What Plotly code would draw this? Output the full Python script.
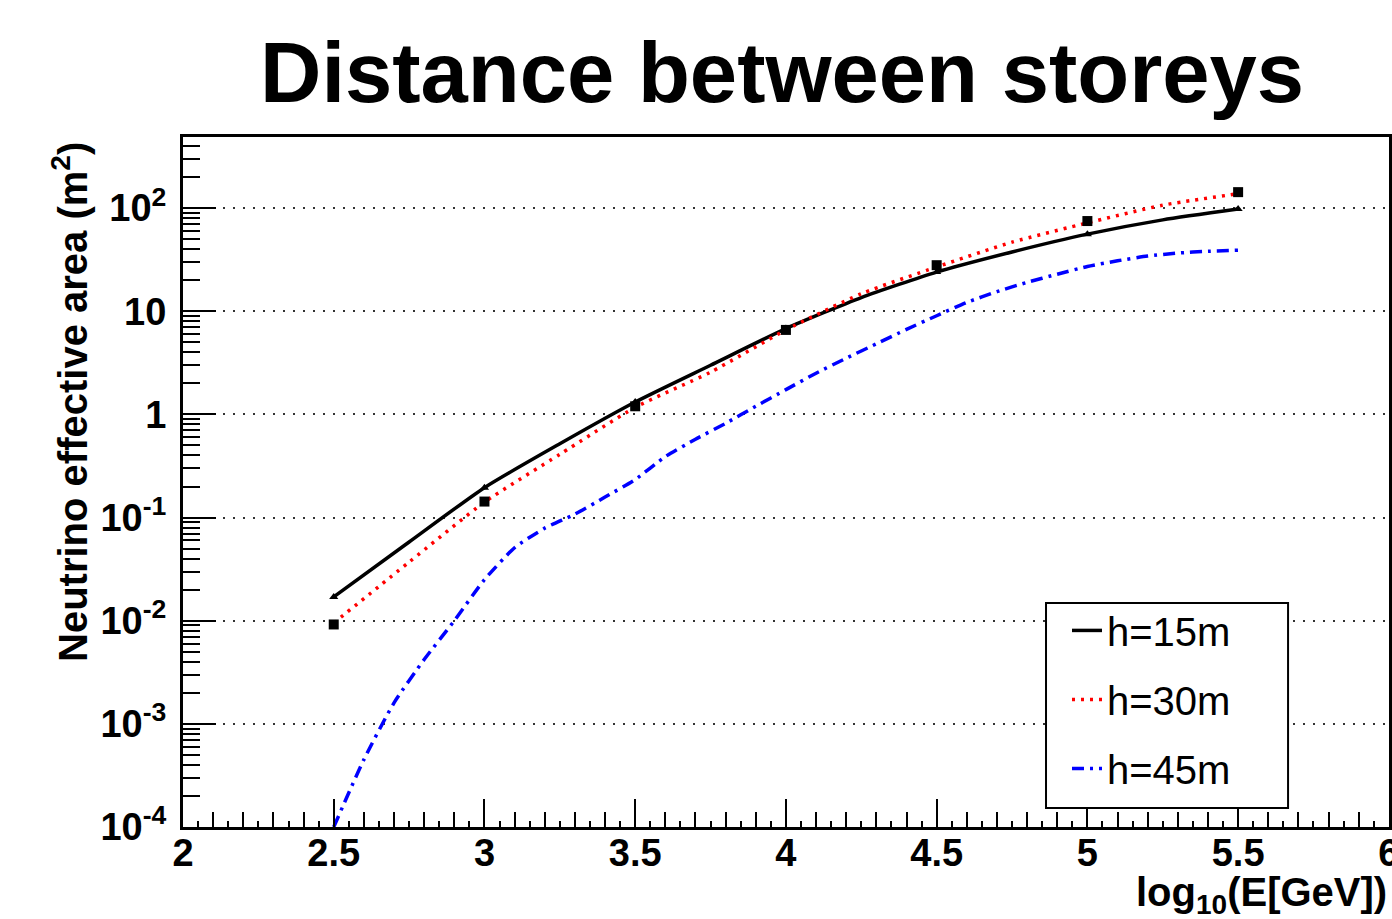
import plotly.graph_objects as go

# ---- data ----
x_main = [2.5, 2.75, 3.0, 3.25, 3.5, 3.75, 4.0, 4.25, 4.5, 4.75, 5.0, 5.25, 5.5]
h15 = [0.017, 0.058, 0.195, 0.52, 1.32, 3.0, 6.8, 13.6, 24.0, 37.6, 56.0, 77.0, 98.0]
h30 = [0.0095, 0.037, 0.141, 0.41, 1.17, 2.57, 6.6, 14.8, 26.9, 46.8, 72.0, 107.0, 138.0]

x_blue = [2.5, 2.6, 2.7, 2.8, 2.9, 3.0, 3.1, 3.2, 3.3, 3.4, 3.5, 3.6, 3.7, 3.8, 3.9, 4.0,
          4.1, 4.2, 4.3, 4.4, 4.5, 4.6, 4.7, 4.8, 4.9, 5.0, 5.1, 5.2, 5.3, 5.4, 5.5]
h45 = [1.0e-4, 4.5e-4, 1.6e-3, 4.2e-3, 0.010, 0.025, 0.051, 0.079, 0.108, 0.158, 0.234,
       0.39, 0.575, 0.82, 1.20, 1.74, 2.51, 3.51, 4.84, 6.68, 9.06, 12.2, 15.5, 19.1,
       22.9, 27.2, 30.9, 34.3, 36.7, 38.2, 39.1]

x_pts = [2.5, 3.0, 3.5, 4.0, 4.5, 5.0, 5.5]
h30_pts = [0.0092, 0.143, 1.2, 6.6, 28.0, 75.0, 143.0]

x_tickvals = [2, 2.5, 3, 3.5, 4, 4.5, 5, 5.5, 6]
x_ticktext = ["2", "2.5", "3", "3.5", "4", "4.5", "5", "5.5", "6"]
y_tickvals = [1e-4, 1e-3, 1e-2, 1e-1, 1, 10, 100]
y_ticktext = ["10<sup>-4</sup>", "10<sup>-3</sup>", "10<sup>-2</sup>", "10<sup>-1</sup>",
              "1", "10", "10<sup>2</sup>"]

FONT = "Liberation Sans, Arial, Helvetica, sans-serif"

# minor log tick positions (2..9 per decade)
minor_y = []
for e in range(-4, 3):
    for m in range(2, 10):
        v = m * 10 ** e
        if v < 490:
            minor_y.append(v)

fig = go.Figure()

fig.add_trace(go.Scatter(
    x=x_main, y=h15, mode="lines", name="h=15m",
    line=dict(color="black", width=3.5, shape="spline", smoothing=0.6),
    legendgroup="a",
))
fig.add_trace(go.Scatter(
    x=x_main, y=h30, mode="lines", name="h=30m",
    line=dict(color="#ff0000", width=3.5, dash="3px,6px", shape="spline", smoothing=0.6),
    legendgroup="b",
))
fig.add_trace(go.Scatter(
    x=x_blue, y=h45, mode="lines", name="h=45m",
    line=dict(color="#0000ff", width=3.5, dash="12px,6px,3px,6px", shape="spline", smoothing=0.6),
    legendgroup="c",
))
# small markers on the h=15m curve at the half-decade points
fig.add_trace(go.Scatter(
    x=x_main[::2], y=h15[::2], mode="markers", showlegend=False,
    marker=dict(symbol="triangle-up", color="black", size=8),
))
fig.add_trace(go.Scatter(
    x=x_pts, y=h30_pts, mode="markers", showlegend=False,
    marker=dict(symbol="square", color="black", size=10),
))
# helper trace for the tertiary x ticks axis
fig.add_trace(go.Scatter(x=[2, 6], y=[None, None], xaxis="x2", yaxis="y",
                         showlegend=False, hoverinfo="skip"))

fig.update_layout(
    width=1392, height=919,
    margin=dict(l=183, r=3, t=137, b=92, autoexpand=False),
    paper_bgcolor="white", plot_bgcolor="white",
    font=dict(family=FONT, color="black"),
    showlegend=True,
    legend=dict(
        x=0.733, y=0.332, xanchor="left", yanchor="top",
        bgcolor="rgba(0,0,0,0)", borderwidth=0,
        font=dict(size=40, family=FONT, color="black"),
        tracegroupgap=14, traceorder="grouped",
    ),
    xaxis=dict(
        range=[2, 6.0005], tickmode="array", tickvals=x_tickvals, ticktext=x_ticktext,
        ticks="inside", ticklen=28, tickwidth=2, tickcolor="black",
        tickfont=dict(size=38, family=FONT, color="black", weight="bold"),
        showline=True, linecolor="black", linewidth=3, mirror=True,
        showgrid=False, zeroline=False, automargin=False,
        minor=dict(dtick=0.1, tick0=2, ticks="inside", ticklen=15, tickwidth=2,
                   tickcolor="black", showgrid=False),
        ticklabelstandoff=-10, ticklabeloverflow="allow",
    ),
    xaxis2=dict(
        range=[2, 6.0005], overlaying="x", anchor="y", side="bottom",
        tickmode="linear", tick0=2, dtick=0.05, ticks="inside", ticklen=6,
        tickwidth=1.5, tickcolor="black", showticklabels=False, automargin=False,
        showgrid=False, zeroline=False, showline=False,
    ),
    yaxis=dict(
        type="log", range=[-4, 2.69], tickmode="array", tickvals=y_tickvals,
        ticktext=y_ticktext, automargin=False,
        ticks="inside", ticklen=33, tickwidth=2, tickcolor="black",
        tickfont=dict(size=38, family=FONT, color="black", weight="bold"),
        showline=True, linecolor="black", linewidth=3, mirror=True,
        showgrid=True, gridcolor="#333333", gridwidth=2, griddash="2px,8px",
        zeroline=False,
        minor=dict(tickmode="array", tickvals=minor_y, ticks="inside", ticklen=17,
                   tickwidth=2, tickcolor="black", showgrid=False),
        ticklabelstandoff=6,
    ),
)

# legend box
fig.add_shape(type="rect", xref="paper", yref="paper",
              x0=0.7156, x1=0.9163, y0=0.0275, y1=0.3246,
              line=dict(color="black", width=2), fillcolor="white", layer="above")

# title
fig.add_annotation(text="<b>Distance between storeys</b>", xref="paper", yref="paper",
                   x=0.497, y=1.094, xanchor="center", yanchor="middle", showarrow=False,
                   font=dict(size=85, family=FONT, color="black"))
# y title
fig.add_annotation(text="<b>Neutrino effective area (m<sup>2</sup>)</b>", xref="paper", yref="paper",
                   x=-0.0937, y=0.616, xanchor="center", yanchor="middle", textangle=-90,
                   showarrow=False, font=dict(size=40, family=FONT, color="black"))
# x title
fig.add_annotation(text="<b>log<sub>10</sub>(E[GeV])</b>", xref="paper", yref="paper",
                   x=1.0, y=-0.099, xanchor="right", yanchor="middle", showarrow=False,
                   font=dict(size=40, family=FONT, color="black"))

fig.write_html("out.html")
